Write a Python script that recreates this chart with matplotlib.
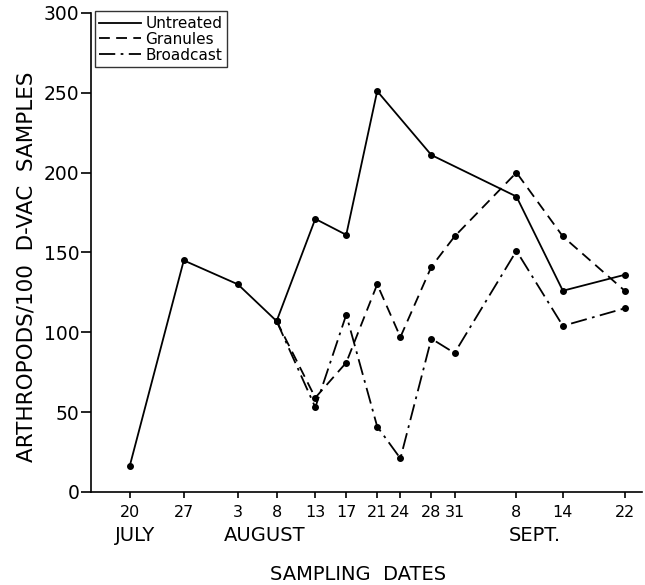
import numpy as np
import matplotlib
matplotlib.use('Agg')
import matplotlib.pyplot as plt
import matplotlib.transforms as mtransforms

# sampling dates, counted as days from 20 July
day_labels = ["20", "27", "3", "8", "13", "17", "21", "24", "28", "31", "8", "14", "22"]
days = [0, 7, 14, 19, 24, 28, 32, 35, 39, 42, 50, 56, 64]
months = ["JULY", "AUGUST", "SEPT."]
month_pos = [0.7, 17.5, 52.4]

untreated = [16, 145, 130, 107, 171, 161, 251, None, 211, None, 185, 126, 136]
# treated plots start at 8 Aug
granules_days = [19, 24, 28, 32, 35, 39, 42, 50, 56, 64]
granules = [107, 59, 81, 130, 97, 141, 160, 200, 160, 126]
broadcast_days = [19, 24, 28, 32, 35, 39, 42, 50, 56, 64]
broadcast = [107, 53, 111, 41, 21, 96, 87, 151, 104, 115]

untr_x = [d for d, v in zip(days, untreated) if v is not None]
untr_y = [v for v in untreated if v is not None]

fig = plt.figure(figsize=(6.45, 5.85), dpi=100)
ax = fig.add_axes([0.141, 0.159, 0.854, 0.819])

ax.plot(untr_x, untr_y, color='black', linestyle='-', linewidth=1.3,
        marker='o', markersize=4, label='Untreated')
ax.plot(granules_days, granules, color='black', linestyle=(0, (6, 3.5)), linewidth=1.3,
        marker='o', markersize=4, label='Granules')
ax.plot(broadcast_days, broadcast, color='black', linestyle=(0, (9, 3, 1.5, 3)), linewidth=1.3,
        marker='o', markersize=4, label='Broadcast')

ax.set_xlim(-5, 66.2)
ax.set_ylim(0, 300)
ax.set_yticks([0, 50, 100, 150, 200, 250, 300])
ax.set_xticks(days)
ax.set_xticklabels(day_labels)
ax.tick_params(axis='y', direction='out', length=7.5, width=1.2, labelsize=13.5, pad=1)
ax.tick_params(axis='x', direction='out', length=4.5, width=1.2, labelsize=11.5, pad=5)

ax.spines['top'].set_visible(False)
ax.spines['right'].set_visible(False)
ax.spines['left'].set_linewidth(1.2)
ax.spines['bottom'].set_linewidth(1.2)

trans = mtransforms.blended_transform_factory(ax.transData, ax.transAxes)
for m, p in zip(months, month_pos):
    ax.text(p, -0.09, m, transform=trans, ha='center', va='center', fontsize=14)

ax.set_xlabel("SAMPLING  DATES", fontsize=14)
ax.xaxis.set_label_coords(0.485, -0.152)
ax.set_ylabel("ARTHROPODS/100  D-VAC  SAMPLES", fontsize=15.5)
ax.yaxis.set_label_coords(-0.098, 0.47)

leg = ax.legend(loc='upper left', bbox_to_anchor=(0.007, 1.003), fontsize=11,
                frameon=True, fancybox=False, edgecolor='black', handlelength=2.7,
                handletextpad=0.3, borderpad=0.3, labelspacing=0.05, borderaxespad=0)
leg.get_frame().set_linewidth(1.0)
for h in leg.get_lines():
    h.set_marker('')

plt.savefig('out.png', dpi=100)
